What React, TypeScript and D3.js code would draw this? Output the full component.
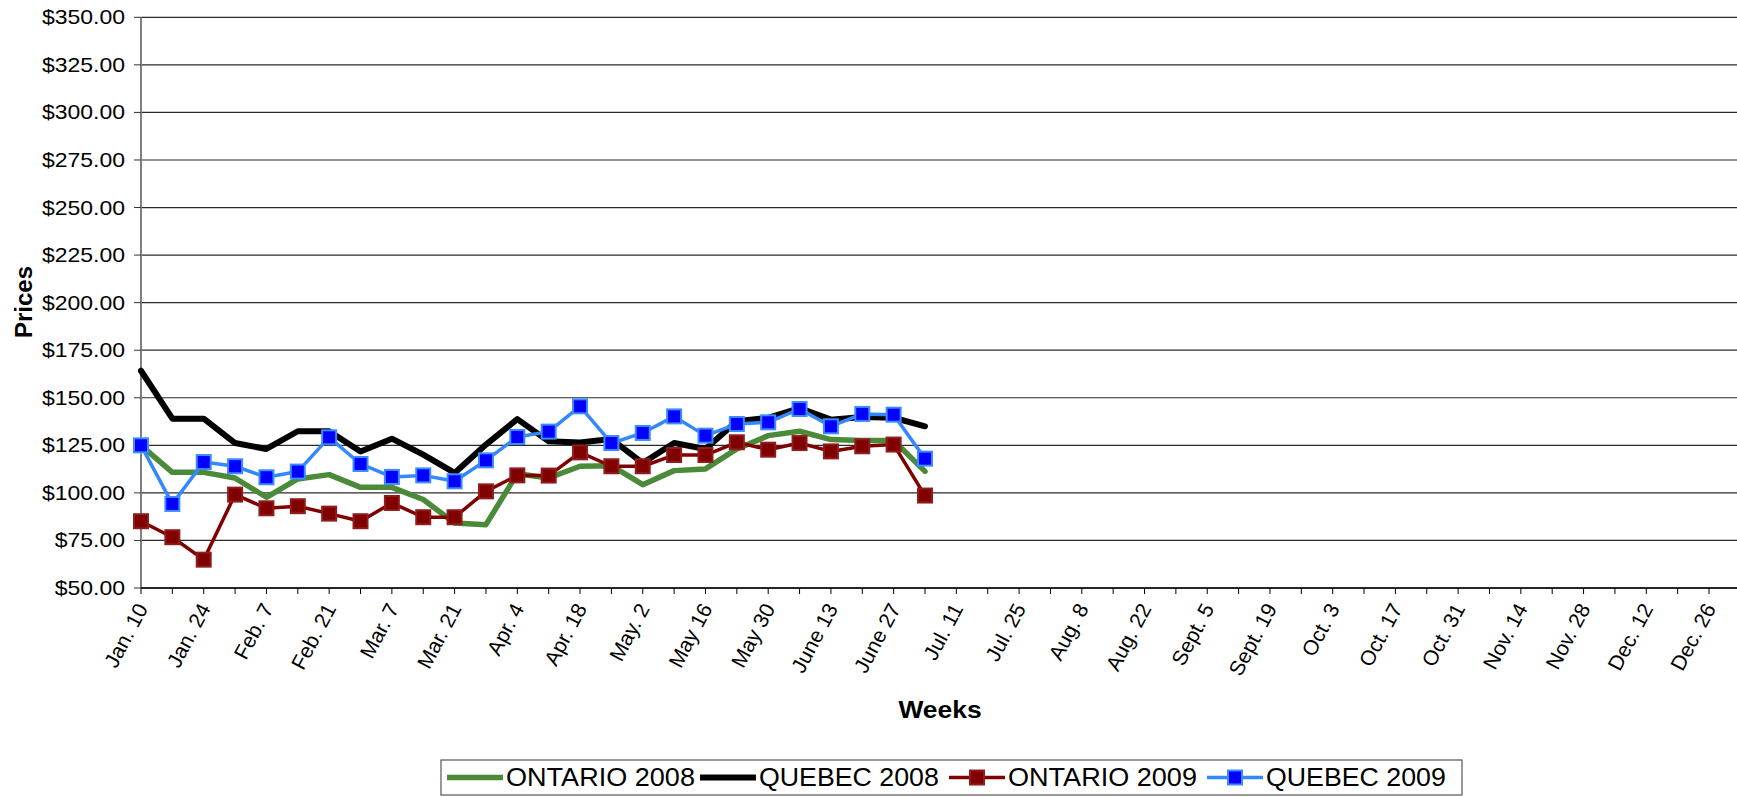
import { useEffect, useRef } from "react";
import * as d3 from "d3";

// week labels shown on the x axis (every other week, Jan. 10 .. Dec. 26)
const weekLabels = [
  "Jan. 10", "Jan. 24", "Feb. 7", "Feb. 21", "Mar. 7", "Mar. 21", "Apr. 4",
  "Apr. 18", "May. 2", "May 16", "May 30", "June 13", "June 27", "Jul. 11",
  "Jul. 25", "Aug. 8", "Aug. 22", "Sept. 5", "Sept. 19", "Oct. 3", "Oct. 17",
  "Oct. 31", "Nov. 14", "Nov. 28", "Dec. 12", "Dec. 26",
];
const weekCount = 51;

const yTicks = [50, 75, 100, 125, 150, 175, 200, 225, 250, 275, 300, 325, 350];

const ontario2008 = [
  125, 110.8, 110.8, 107.8, 97.7, 107.3, 109.6, 102.9, 102.9, 96.5, 84.2, 83.3,
  110.1, 107.8, 114.0, 114.3, 104.3, 111.7, 112.6, 123.1, 130.1, 132.4, 128.0,
  127.6, 127.5, 111.3,
];
const quebec2008 = [
  164.2, 139.0, 139.0, 126.2, 123.1, 132.4, 132.4, 121.8, 128.5, 120.1, 110.5,
  125.4, 138.8, 127.1, 126.5, 128.3, 115.7, 126.2, 123.1, 137.6, 139.4, 144.6,
  138.5, 139.9, 139.5, 135.0,
];
const ontario2009 = [
  85.1, 76.7, 64.9, 99.1, 91.9, 93.0, 89.1, 85.1, 94.7, 87.2, 87.2, 100.8,
  109.2, 109.1, 121.3, 114.0, 114.0, 119.9, 119.9, 126.6, 122.7, 126.2, 121.8,
  124.5, 125.4, 98.6,
];
const quebec2009 = [
  125, 94.2, 116.2, 114.0, 108.2, 111.2, 129.2, 115.2, 108.4, 109.2, 106.1,
  117.1, 129.4, 132.2, 145.5, 126.2, 131.5, 140.2, 130.1, 136.2, 137.1, 144.1,
  135.0, 141.5, 141.1, 118.0,
];

interface Series {
  name: string;
  values: number[];
  color: string;
  width: number;
  marker?: { fill: string; stroke: string };
}

const series: Series[] = [
  { name: "ONTARIO 2008", values: ontario2008, color: "#4a8a38", width: 5.5 },
  { name: "QUEBEC 2008", values: quebec2008, color: "#000000", width: 6 },
  {
    name: "ONTARIO 2009",
    values: ontario2009,
    color: "#800000",
    width: 3.5,
    marker: { fill: "#800000", stroke: "#8f1d1d" },
  },
  {
    name: "QUEBEC 2009",
    values: quebec2009,
    color: "#3388ff",
    width: 3.5,
    marker: { fill: "#0000ff", stroke: "#3a8cff" },
  },
];

const FONT = "'Liberation Sans', Arial, sans-serif";

const Chart = () => {
  const svgRef = useRef<SVGSVGElement>(null);

  useEffect(() => {
    if (!svgRef.current) return;
    const svg = d3.select(svgRef.current);
    svg.selectAll("*").remove();

    const W = 1737;
    const H = 797;
    const left = 141;
    const right = 1737;
    const top = 17.3;
    const bottom = 588;

    svg.attr("width", W).attr("height", H).style("font-family", FONT);

    const x = d3.scaleLinear().domain([0, weekCount - 1]).range([left, 1709]);
    const y = d3.scaleLinear().domain([50, 350]).range([bottom, top]);

    // gridlines
    svg
      .append("g")
      .selectAll("line")
      .data(yTicks)
      .join("line")
      .attr("x1", left)
      .attr("x2", right)
      .attr("y1", (d) => y(d))
      .attr("y2", (d) => y(d))
      .attr("stroke", "#2a2a2a")
      .attr("stroke-width", 1.2);

    // y axis
    svg
      .append("line")
      .attr("x1", left)
      .attr("x2", left)
      .attr("y1", top)
      .attr("y2", bottom)
      .attr("stroke", "#808080")
      .attr("stroke-width", 2);

    svg
      .append("g")
      .selectAll("line")
      .data(yTicks)
      .join("line")
      .attr("x1", left - 7)
      .attr("x2", left)
      .attr("y1", (d) => y(d))
      .attr("y2", (d) => y(d))
      .attr("stroke", "#333");

    svg
      .append("g")
      .selectAll("text")
      .data(yTicks)
      .join("text")
      .attr("transform", (d) => `translate(${125},${y(d)}) scale(1.15,1)`)
      .attr("text-anchor", "end")
      .attr("dy", "0.35em")
      .style("font-size", "20px")
      .style("fill", "#000")
      .text((d) => `$${d3.format(".2f")(d)}`);

    // x axis
    svg
      .append("line")
      .attr("x1", left)
      .attr("x2", right)
      .attr("y1", bottom)
      .attr("y2", bottom)
      .attr("stroke", "#000")
      .attr("stroke-width", 1.3);

    svg
      .append("g")
      .selectAll("line")
      .data(d3.range(weekCount))
      .join("line")
      .attr("x1", (d) => x(d))
      .attr("x2", (d) => x(d))
      .attr("y1", bottom)
      .attr("y2", bottom + 6)
      .attr("stroke", "#000");

    svg
      .append("g")
      .selectAll("text")
      .data(weekLabels)
      .join("text")
      .attr("transform", (_, i) => `translate(${x(i * 2) + 1},${bottom + 17}) rotate(-62)`)
      .attr("text-anchor", "end")
      .attr("dy", "0.35em")
      .style("font-size", "21px")
      .style("fill", "#000")
      .text((d) => d);

    // axis titles
    svg
      .append("text")
      .attr("transform", `translate(940,718) scale(1.1,1)`)
      .attr("text-anchor", "middle")
      .style("font-size", "24px")
      .style("font-weight", "bold")
      .text("Weeks");

    svg
      .append("text")
      .attr("transform", `translate(32,302) rotate(-90)`)
      .attr("text-anchor", "middle")
      .style("font-size", "24px")
      .style("font-weight", "bold")
      .text("Prices");

    // lines
    series.forEach((s) => {
      const line = d3
        .line<number>()
        .x((_, i) => x(i))
        .y((d) => y(d));

      svg
        .append("path")
        .datum(s.values)
        .attr("fill", "none")
        .attr("stroke", s.color)
        .attr("stroke-width", s.width)
        .attr("stroke-linejoin", "round")
        .attr("stroke-linecap", "round")
        .attr("d", line);

      if (s.marker) {
        const size = 14;
        svg
          .append("g")
          .selectAll("rect")
          .data(s.values)
          .join("rect")
          .attr("x", (_, i) => x(i) - size / 2)
          .attr("y", (d) => y(d) - size / 2)
          .attr("width", size)
          .attr("height", size)
          .attr("fill", s.marker.fill)
          .attr("stroke", s.marker.stroke)
          .attr("stroke-width", 2);
      }
    });

    // legend
    const legend = svg.append("g");
    legend
      .append("rect")
      .attr("x", 441)
      .attr("y", 760)
      .attr("width", 1021)
      .attr("height", 35)
      .attr("fill", "#fff")
      .attr("stroke", "#555")
      .attr("stroke-width", 1.2);

    const starts = [447, 700, 949, 1207];
    const ly = 777.5;
    series.forEach((s, k) => {
      const cx = starts[k];
      legend
        .append("line")
        .attr("x1", cx)
        .attr("x2", cx + 56)
        .attr("y1", ly)
        .attr("y2", ly)
        .attr("stroke", s.color)
        .attr("stroke-width", s.width);
      if (s.marker) {
        legend
          .append("rect")
          .attr("x", cx + 28 - 7)
          .attr("y", ly - 7)
          .attr("width", 14)
          .attr("height", 14)
          .attr("fill", s.marker.fill)
          .attr("stroke", s.marker.stroke)
          .attr("stroke-width", 2);
      }
      const t = legend
        .append("text")
        .attr("x", 0)
        .attr("dy", "0.35em")
        .style("font-size", "25px")
        .style("fill", "#000")
        .text(s.name);
      const w = (t.node() as SVGTextElement).getComputedTextLength();
      const target = k === 0 || k === 2 ? 189 : 180;
      t.attr("transform", `translate(${cx + 59},${ly}) scale(${target / w},1)`);
    });
  }, []);

  return (
    <svg
      ref={svgRef}
      style={{ position: "absolute", left: 0, top: 0, background: "#fff" }}
    ></svg>
  );
};

export default function App() {
  return <Chart />;
}
